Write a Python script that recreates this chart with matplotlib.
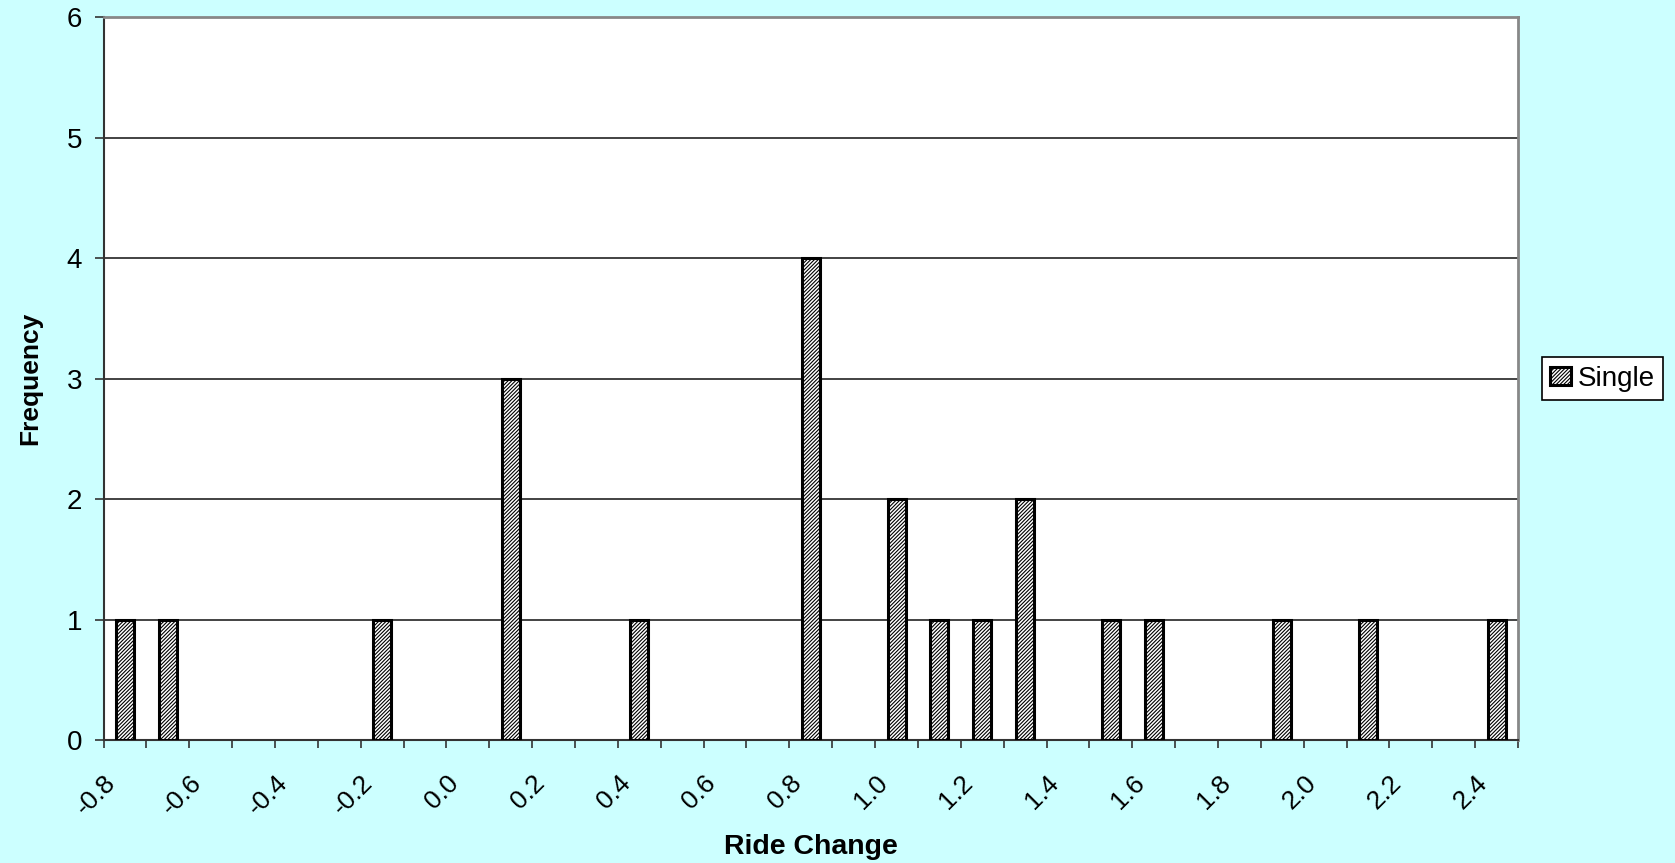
"""Histogram of ride change values, single-series bar chart."""
import matplotlib.pyplot as plt
import numpy as np

plt.rcParams['font.family'] = ['Liberation Sans', 'DejaVu Sans']
plt.rcParams['hatch.linewidth'] = 0.8

# bin labels -0.8 .. 2.4 in steps of 0.1
categories = ['%.1f' % v for v in np.round(np.arange(-0.8, 2.45, 0.1), 1)]
categories = ['0.0' if c == '-0.0' else c for c in categories]
counts = {
    '-0.8': 1, '-0.7': 1, '-0.2': 1, '0.1': 3, '0.4': 1, '0.8': 4,
    '1.0': 2, '1.1': 1, '1.2': 1, '1.3': 2, '1.5': 1, '1.6': 1,
    '1.9': 1, '2.1': 1, '2.4': 1,
}
frequency = np.array([counts.get(c, 0) for c in categories])
bg = '#CCFFFF'


def main():
    fig = plt.figure(figsize=(16.75, 8.63), dpi=100, facecolor=bg)
    axes = fig.add_axes([0.0618, 0.1425, 0.8445, 0.8375])
    axes.set_facecolor('white')

    xs = np.arange(len(categories))
    filled = frequency > 0
    axes.bar(xs[filled], frequency[filled], width=0.42, color='white',
             edgecolor='black', hatch='/' * 9, linewidth=2.2,
             label='Single', zorder=3)

    axes.set_xlim(-0.5, len(categories) - 0.5)
    axes.set_ylim(0, 6)
    axes.set_yticks(range(7))
    axes.yaxis.grid(True, color='#222222', linewidth=1.2, zorder=0)

    # tick marks on bin edges, every other edge labelled with the bin to its right
    edges = np.arange(-0.5, len(categories), 1)
    edge_labels = [categories[i] if i % 2 == 0 and i < len(categories) else ''
                   for i in range(len(edges))]
    axes.set_xticks(edges)
    axes.set_xticklabels(edge_labels, rotation=45, ha='right',
                         rotation_mode='anchor', fontsize=19)
    axes.tick_params(axis='x', length=5.5, width=1.2, direction='out',
                     color='#333333', pad=16.5)
    axes.tick_params(axis='y', length=6.5, width=1.2, labelsize=20,
                     color='#333333', pad=9)

    for side in ('top', 'right'):
        axes.spines[side].set_color('#888888')
        axes.spines[side].set_linewidth(2)
    for side in ('left', 'bottom'):
        axes.spines[side].set_color('#333333')
        axes.spines[side].set_linewidth(1.5)

    axes.set_xlabel('Ride Change', fontsize=20.5, fontweight='bold', va='top')
    axes.xaxis.set_label_coords(0.5, -0.130)
    axes.set_ylabel('Frequency', fontsize=19, fontweight='bold')
    axes.yaxis.set_label_coords(-0.043, 0.5)

    leg = fig.legend(loc='center', bbox_to_anchor=(0.9567, 0.5614), fontsize=20,
                     fancybox=False, edgecolor='black', framealpha=1,
                     handlelength=0.75, handleheight=0.6, handletextpad=0.25,
                     borderpad=0.3, borderaxespad=0)
    leg.get_frame().set_linewidth(1.2)

    fig.savefig('out.png', dpi=100, facecolor=bg)


if __name__ == "__main__":
    main()
